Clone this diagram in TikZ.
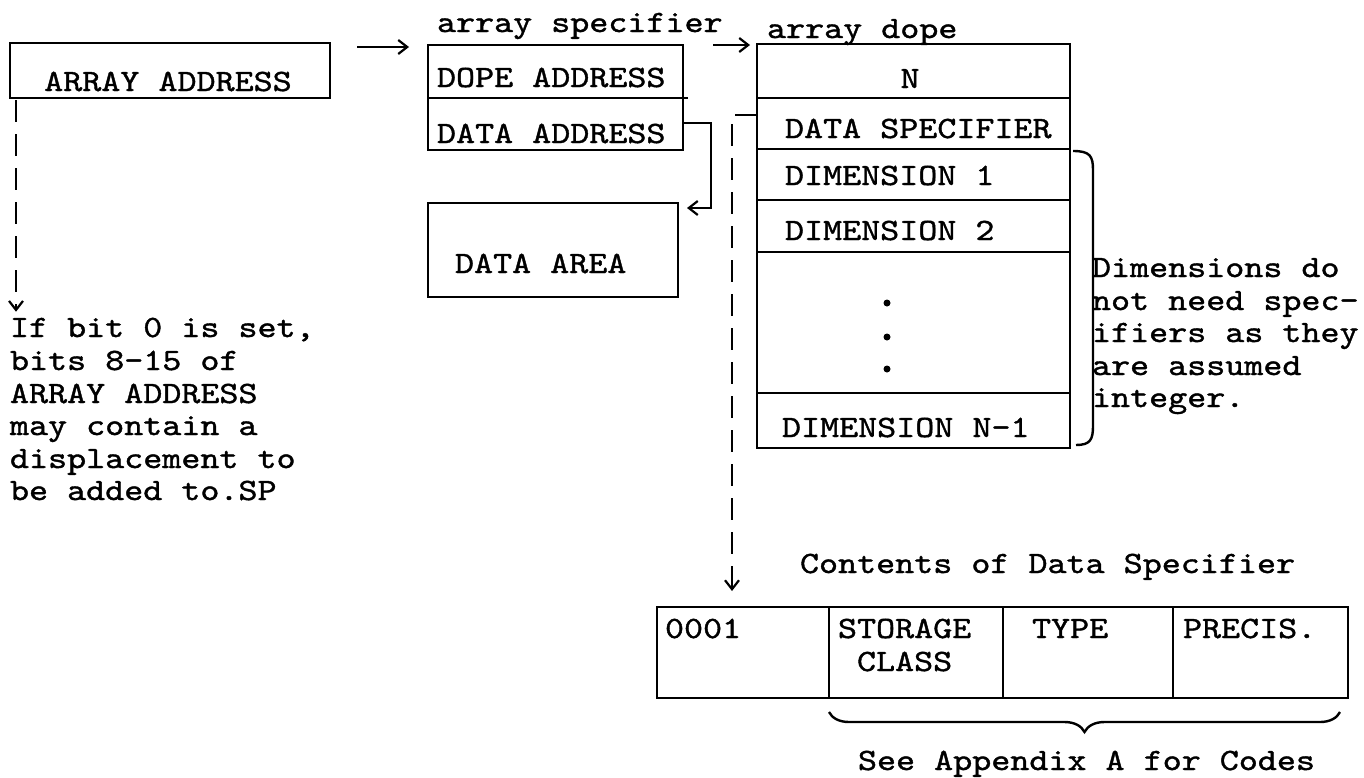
\documentclass[tikz,border=0pt]{standalone}
\usepackage{fontspec}
\newfontfamily\tw{lmmono10-regular}[Extension=.otf, FakeStretch=1.17, FakeBold=1.2]
\usetikzlibrary{arrows.meta,decorations.pathreplacing,calc}
\begin{document}
\begin{tikzpicture}[x=1pt,y=-1pt,
  every node/.style={font=\tw\fontsize{31}{32.6}\selectfont, inner sep=0pt, outer sep=0pt},
  box/.style={draw, line width=2.4pt, anchor=north west},
  lbl/.style={anchor=base west},
  lw/.style={line width=2.4pt},
  conn/.style={line width=2.2pt, -{Straight Barb[length=9pt,width=14pt,line width=2.2pt]}},
  dashconn/.style={conn, dash pattern=on 22pt off 12pt}]
\useasboundingbox (0,0) rectangle (1364,777);

% ---- boxes
\node[box, minimum width=320pt, minimum height=55pt] (aa) at (10,43) {};
\node[box, minimum width=255pt, minimum height=105pt] (spec) at (428,45) {};
\node[box, minimum width=250pt, minimum height=94pt] (area) at (428,203) {};
\node[box, minimum width=313pt, minimum height=404pt] (dope) at (757,44) {};
\node[box, minimum width=691pt, minimum height=91pt] (dsb) at (657,607) {};

% dividers
\draw[lw] (428,98) -- (688,98);
\draw[lw] (757,98) -- (1070,98);
\draw[lw] (757,149) -- (1070,149);
\draw[lw] (757,200) -- (1070,200);
\draw[lw] (757,252) -- (1070,252);
\draw[lw] (757,393) -- (1070,393);
\draw[lw] (829,607) -- (829,698);
\draw[lw] (1003,607) -- (1003,698);
\draw[lw] (1173,607) -- (1173,698);

% ---- texts
\node[anchor=base] (taa) at (168,91) {ARRAY ADDRESS};
\node[lbl] (tspec) at (437,32) {array specifier};
\node[lbl] (tdopeaddr) at (437,87) {DOPE ADDRESS};
\node[lbl] (tdataaddr) at (437,143) {DATA ADDRESS};
\node[lbl] (tarea) at (455,273) {DATA AREA};
\node[lbl] (tdope) at (767,38) {array dope};
\node[anchor=base] (tn) at (910,88) {N};
\node[lbl] (tdspec) at (785,138) {DATA SPECIFIER};
\node[lbl] (tdim1) at (785,185) {DIMENSION 1};
\node[lbl] (tdim2) at (785,240) {DIMENSION 2};
\node[lbl] (tdimn) at (782,437) {DIMENSION N-1};
\fill (887,303) circle (3.5pt);
\fill (887,337) circle (3.5pt);
\fill (887,369) circle (3.5pt);

\node[lbl] (d1) at (1092,277) {Dimensions do};
\node[lbl] (d2) at (1092,310) {not need spec-};
\node[lbl] (d3) at (1092,342) {ifiers as they};
\node[lbl] (d4) at (1092,375) {are assumed};
\node[lbl] (d5) at (1092,407) {integer.};

\node[lbl] (n1) at (10,337) {If bit 0 is set,};
\node[lbl] (n2) at (10,370) {bits 8-15 of};
\node[lbl] (n3) at (10,403) {ARRAY ADDRESS};
\node[lbl] (n4) at (10,435) {may contain a};
\node[lbl] (n5) at (10,468) {displacement to};
\node[lbl] (n6) at (10,500) {be added to.SP};

\node[lbl] (tcont) at (800,573) {Contents of Data Specifier};
\node[lbl] (t0001) at (665,638) {0001};
\node[lbl] (tstor) at (838,638) {STORAGE};
\node[lbl] (tclass) at (857,671) {CLASS};
\node[lbl] (ttype) at (1032,638) {TYPE};
\node[lbl] (tprec) at (1183,638) {PRECIS.};
\node[lbl] (tsee) at (858,770) {See Appendix A for Codes};

% ---- connectors
\coordinate (a1s) at ($(aa.north east)+(27,4)$);
\draw[conn] (a1s) -- ($(spec.north west)+(-19,2)$);
\coordinate (a2s) at ($(spec.north east)+(30,0)$);
\draw[conn] (a2s) -- ($(dope.north west)+(-7,1)$);
\coordinate (daout) at (682,123);
\draw[conn] (daout) -- (711,123) -- (711,208) -- ($(area.north east)+(9,5)$);
\coordinate (dsout) at (757,115);
\draw[dashconn] (dsout) -- (732,115) -- ($(dsb.north west)+(75,-16)$);
\draw[dashconn] ($(aa.south west)+(6,2)$) -- ($(n1.north west)+(6,-6)$);

% ---- braces
\draw[lw] (1073,151) .. controls (1090,151) and (1093,156) .. (1093,170) -- (1093,426)
  .. controls (1093,440) and (1090,445) .. (1076,445);
\draw[lw, decorate, decoration={brace, mirror, amplitude=20pt}] (829,712) -- (1340,712);
\end{tikzpicture}
\end{document}
